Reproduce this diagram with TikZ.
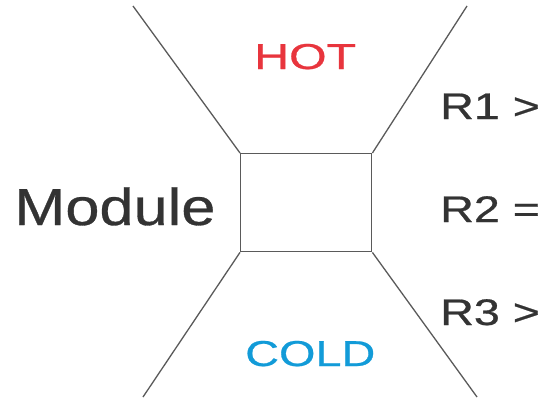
\documentclass[tikz,border=0pt]{standalone}
\usepackage{fontspec}
\setmainfont{Liberation Sans}[FakeBold=0.6]
\definecolor{hotred}{HTML}{E8353D}
\definecolor{coldblue}{HTML}{129BD8}
\definecolor{txtgray}{HTML}{333333}
\definecolor{linegray}{HTML}{5A5A5A}
\begin{document}
\begin{tikzpicture}[x=1pt,y=-1pt,
  wire/.style={draw=linegray, line width=1.3pt},
  lbl/.style={inner sep=0pt, anchor=base west, text=txtgray}]
\useasboundingbox (0,0) rectangle (546,399);
\node[draw=linegray, line width=1.4pt, minimum width=131pt, minimum height=98pt,
      inner sep=0pt, anchor=north west] (box) at (240,153) {};
\coordinate (tl) at (133,6);
\coordinate (tr) at (467,6);
\coordinate (bl) at (143,397);
\coordinate (br) at (477,397);
\draw[wire] (tl) -- (box.north west);
\draw[wire] (tr) -- (box.north east);
\draw[wire] (bl) -- (box.south west);
\draw[wire] (br) -- (box.south east);
\node[lbl, font=\fontsize{52}{60}\selectfont, xscale=1.18] (mod) at (14,225) {Module};
\node[lbl, text=hotred, font=\fontsize{36}{40}\selectfont, xscale=1.34] (hot) at (254,69) {HOT};
\node[lbl, text=coldblue, font=\fontsize{36}{40}\selectfont, xscale=1.3] (cold) at (245,366) {COLD};
\node[lbl, font=\fontsize{37}{40}\selectfont, xscale=1.26] (r1) at (440,119) {R1 >};
\node[lbl, font=\fontsize{37}{40}\selectfont, xscale=1.26] (r2) at (440,222) {R2 =};
\node[lbl, font=\fontsize{37}{40}\selectfont, xscale=1.26] (r3) at (440,325) {R3 >};
\end{tikzpicture}
\end{document}
